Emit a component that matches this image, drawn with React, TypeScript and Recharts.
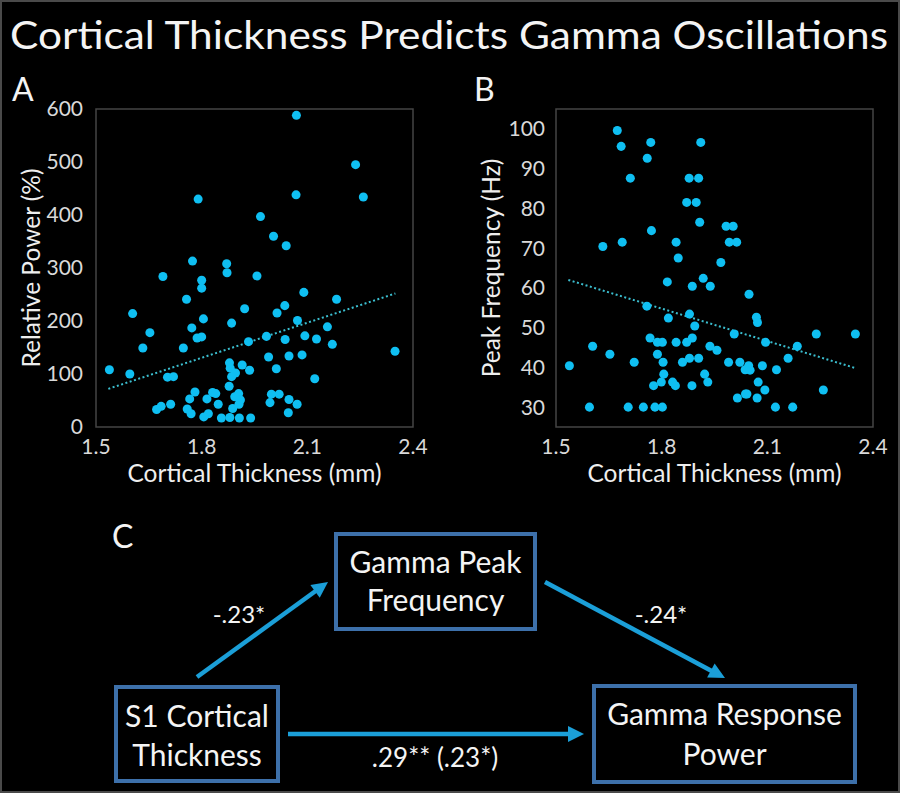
import React from 'react';
import { ScatterChart, Scatter, XAxis, YAxis, ZAxis, ReferenceLine, ReferenceArea } from 'recharts';

// Panel A: cortical thickness (mm) vs relative gamma power (%)
const thicknessA = [
  2.069, 2.237, 2.068, 2.259, 1.79, 1.967, 2.004, 2.04, 1.774, 1.871, 1.872, 1.69, 1.957, 1.8, 1.8,
  2.09, 1.757, 2.183, 2.036, 1.922, 2.014, 1.604, 1.805, 2.072, 1.885, 2.157, 1.772, 1.653, 1.787, 1.8,
  1.984, 2.093, 2.126, 2.037, 1.933, 2.171, 1.748, 1.633, 2.349, 1.99, 2.048, 2.085, 1.879, 1.915, 1.538,
  1.881, 1.936, 2.012, 1.596, 1.896, 1.885, 1.703, 1.72, 2.121, 1.878, 1.781, 1.831, 1.84, 1.998, 2.02,
  1.905, 1.894, 1.815, 1.766, 1.91, 2.048, 1.994, 2.071, 1.712, 1.847, 1.906, 1.685, 1.672, 1.759, 1.77,
  1.888, 1.819, 1.806, 2.046, 1.856, 1.88, 1.907, 1.939,
];
const powerA = [
  588, 495, 438, 434, 430, 397, 360, 342, 313, 308, 291, 284, 285, 277, 262,
  254, 241, 241, 229, 223, 215, 214, 204, 201, 196, 189, 187, 178, 168, 170,
  171, 172, 166, 165, 161, 156, 149, 149, 143, 132, 134, 136, 121, 117, 108,
  111, 107, 110, 100, 102, 95, 94, 95, 91, 77, 66, 65, 63, 62, 62,
  63, 57, 53, 53, 51, 52, 46, 43, 43, 43, 43, 39, 33, 34, 25,
  35, 25, 19, 27, 17, 18, 17, 17,
];

// Panel B: cortical thickness (mm) vs gamma peak frequency (Hz)
const thicknessB = [
  1.674, 1.685, 1.769, 1.911, 1.759, 1.711, 1.878, 1.905, 1.871, 1.898, 1.908, 1.771, 1.983, 2.003, 1.688,
  1.841, 1.992, 2.013, 1.633, 1.847, 1.968, 1.918, 1.816, 1.887, 1.938, 2.048, 1.758, 1.879, 1.819, 2.069,
  2.072, 1.894, 2.006, 2.239, 2.35, 1.767, 1.887, 1.788, 1.802, 1.841, 1.871, 2.095, 1.604, 1.937, 2.185,
  1.957, 1.653, 1.788, 2.159, 1.879, 1.905, 1.722, 1.804, 1.859, 1.99, 2.022, 1.538, 2.086, 2.047, 2.051,
  2.037, 2.126, 1.806, 1.922, 1.831, 1.799, 1.931, 2.074, 1.777, 1.839, 1.886, 2.093, 2.259, 2.038, 2.042,
  2.015, 2.071, 1.595, 1.705, 1.748, 1.781, 1.802, 2.123, 2.172,
];
const freqB = [
  99.6, 95.6, 96.6, 96.6, 92.6, 87.6, 87.6, 87.6, 81.5, 81.5, 76.5, 74.4, 75.5, 75.5, 71.5,
  71.5, 71.5, 71.5, 70.4, 67.5, 66.4, 62.4, 61.5, 60.4, 60.4, 58.4, 55.4, 53.4, 52.4, 52.6,
  51.3, 50.4, 48.4, 48.4, 48.4, 47.4, 47.4, 46.3, 46.3, 46.3, 46.3, 46.3, 45.3, 45.3, 45.3,
  44.3, 43.3, 43.3, 42.3, 42.3, 42.3, 41.3, 41.3, 41.3, 41.3, 41.3, 40.4, 40.4, 40.4, 39.3,
  39.4, 39.4, 38.3, 38.3, 36.3, 36.3, 36.3, 36.3, 35.4, 35.4, 35.4, 34.3, 34.3, 33.3, 33.3,
  32.3, 32.3, 30, 30, 30, 30, 30, 30, 30,
];

const thicknessTicks = [1.5, 1.8, 2.1, 2.4];
const powerTicks = [0, 100, 200, 300, 400, 500, 600];
const freqTicks = [30, 40, 50, 60, 70, 80, 90, 100];

// Linear trend line end points
const trendAX = [1.535, 2.35];
const trendAY = [72, 252];
const trendBX = [1.535, 2.347];
const trendBY = [62, 39.9];

const FONT = 'Lato, "Open Sans", sans-serif';
const DOT = '#0fbff2';
const TREND = '#3bbfd0';
const FRAME = '#444444';
const TICK = { fill: '#d9d9d9', fontSize: 21, fontFamily: FONT };
const AXIS_TITLE = { fill: '#eeeeee', fontSize: 24.5, fontFamily: FONT };

const dataA = thicknessA.map((x, i) => ({ x, y: powerA[i] }));
const dataB = thicknessB.map((x, i) => ({ x, y: freqB[i] }));

function Panel(props: {
  data: { x: number; y: number }[];
  yDomain: [number, number];
  yTicks: number[];
  yLabel: string;
  yAxisWidth: number;
  rightMargin: number;
  yTickMargin: number;
  yLabelOffset: number;
  trendX: number[];
  trendY: number[];
}) {
  const { data, yDomain, yTicks, yLabel, yAxisWidth, rightMargin, yTickMargin, yLabelOffset, trendX, trendY } = props;
  return (
    <ScatterChart width={450} height={500} margin={{ top: 109, right: rightMargin, left: 0, bottom: 0 }}>
      <XAxis
        type="number"
        dataKey="x"
        domain={[1.5, 2.4]}
        ticks={thicknessTicks}
        tickFormatter={(v: number) => v.toFixed(1)}
        allowDataOverflow
        height={73}
        axisLine={false}
        tickLine={false}
        tickSize={0}
        tickMargin={12}
        tick={TICK}
        interval={0}
        label={{ value: 'Cortical Thickness (mm)', position: 'insideBottom', offset: 18, style: AXIS_TITLE }}
      />
      <YAxis
        type="number"
        dataKey="y"
        domain={yDomain}
        ticks={yTicks}
        allowDataOverflow
        width={yAxisWidth}
        axisLine={false}
        tickLine={false}
        tickSize={0}
        tickMargin={yTickMargin}
        tick={TICK}
        interval={0}
        label={{
          value: yLabel,
          angle: -90,
          position: 'insideLeft',
          offset: yLabelOffset,
          style: { ...AXIS_TITLE, textAnchor: 'middle' },
        }}
      />
      <ZAxis range={[62, 62]} />
      <ReferenceArea
        x1={1.5}
        x2={2.4}
        y1={yDomain[0]}
        y2={yDomain[1]}
        fill="none"
        fillOpacity={0}
        stroke={FRAME}
        strokeWidth={1.5}
        ifOverflow="visible"
      />
      <ReferenceLine
        segment={[
          { x: trendX[0], y: trendY[0] },
          { x: trendX[1], y: trendY[1] },
        ]}
        stroke={TREND}
        strokeWidth={2}
        strokeDasharray="2 2.5"
        ifOverflow="visible"
      />
      <Scatter data={data} fill={DOT} isAnimationActive={false} />
    </ScatterChart>
  );
}

function Arrow({ x1, y1, x2, y2 }: { x1: number; y1: number; x2: number; y2: number }) {
  const dx = x2 - x1;
  const dy = y2 - y1;
  const len = Math.sqrt(dx * dx + dy * dy);
  const ux = dx / len;
  const uy = dy / len;
  const headL = 16;
  const headW = 8;
  const bx = x2 - ux * headL;
  const by = y2 - uy * headL;
  const px = -uy;
  const py = ux;
  const pts = `${x2},${y2} ${bx + px * headW},${by + py * headW} ${bx - px * headW},${by - py * headW}`;
  return (
    <g>
      <line x1={x1} y1={y1} x2={bx + ux * 2} y2={by + uy * 2} stroke="#1b9fd8" strokeWidth={4.5} />
      <polygon points={pts} fill="#1b9fd8" />
    </g>
  );
}

function BoxNode({ x, y, w, h, lines, ys }: { x: number; y: number; w: number; h: number; lines: string[]; ys: number[] }) {
  return (
    <g>
      <rect x={x} y={y} width={w} height={h} fill="none" stroke="#3d70aa" strokeWidth={4} />
      {lines.map((t, i) => (
        <text key={t} x={x + w / 2} y={ys[i]} textAnchor="middle" fill="#f4f4f4" fontSize={30} fontFamily={FONT}>
          {t}
        </text>
      ))}
    </g>
  );
}

export default function App() {
  return (
    <div
      style={{
        position: 'absolute',
        left: 0,
        top: 0,
        width: 900,
        height: 793,
        background: '#000',
        boxSizing: 'border-box',
        border: '2px solid #4a4a4a',
        overflow: 'hidden',
        fontFamily: FONT,
      }}
    >
      <div style={{ position: 'absolute', left: -2, top: -2 }}>
        <Panel
          data={dataA}
          yDomain={[0, 600]}
          yTicks={powerTicks}
          yLabel="Relative Power (%)"
          yAxisWidth={96}
          rightMargin={37}
          yTickMargin={13}
          yLabelOffset={31}
          trendX={trendAX}
          trendY={trendAY}
        />
      </div>
      <div style={{ position: 'absolute', left: 448, top: -2 }}>
        <Panel
          data={dataB}
          yDomain={[25, 105]}
          yTicks={freqTicks}
          yLabel="Peak Frequency (Hz)"
          yAxisWidth={106}
          rightMargin={27}
          yTickMargin={11}
          yLabelOffset={41}
          trendX={trendBX}
          trendY={trendBY}
        />
      </div>
      <svg
        width={900}
        height={793}
        style={{ position: 'absolute', left: -2, top: -2, pointerEvents: 'none' }}
      >
        <text x={449} y={49} textAnchor="middle" fill="#f4f4f4" fontSize={39} fontFamily={FONT} textLength={878} lengthAdjust="spacingAndGlyphs">
          Cortical Thickness Predicts Gamma Oscillations
        </text>
        <text x={12} y={101} fill="#f4f4f4" fontSize={32} fontFamily={FONT}>A</text>
        <text x={474} y={101} fill="#f4f4f4" fontSize={32} fontFamily={FONT}>B</text>
        <text x={112} y={548} fill="#f4f4f4" fontSize={32} fontFamily={FONT}>C</text>

        <BoxNode x={336} y={534} w={199} h={95} lines={['Gamma Peak', 'Frequency']} ys={[573, 611]} />
        <BoxNode x={116} y={687} w={162} h={94} lines={['S1 Cortical', 'Thickness']} ys={[727, 766]} />
        <BoxNode x={594} y={686} w={261} h={96} lines={['Gamma Response', 'Power']} ys={[725, 765]} />

        <Arrow x1={197} y1={677} x2={328} y2={582} />
        <Arrow x1={545} y1={582} x2={725} y2={678} />
        <Arrow x1={288} y1={734} x2={584} y2={734} />

        <text x={239} y={623} textAnchor="middle" fill="#f4f4f4" fontSize={24} fontFamily={FONT}>-.23*</text>
        <text x={661} y={623} textAnchor="middle" fill="#f4f4f4" fontSize={24} fontFamily={FONT}>-.24*</text>
        <text x={435} y={767} textAnchor="middle" fill="#f4f4f4" fontSize={26} fontFamily={FONT}>.29** (.23*)</text>
      </svg>
    </div>
  );
}
